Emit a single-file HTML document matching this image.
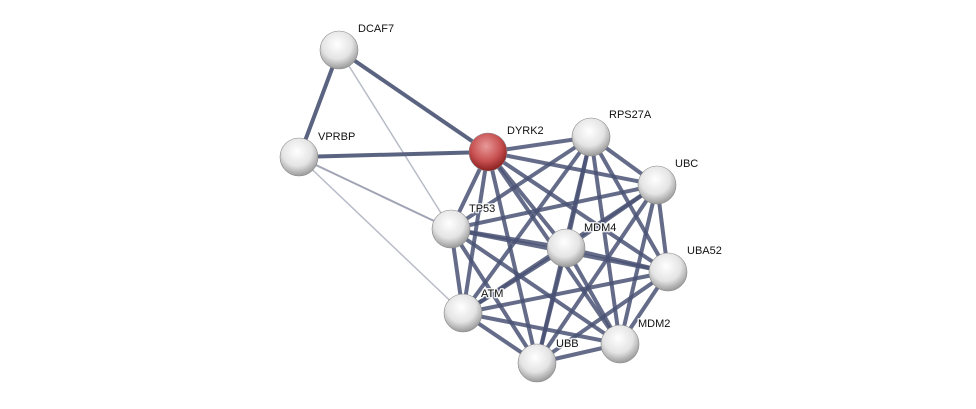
<!DOCTYPE html>
<html><head><meta charset="utf-8"><style>
html,body{margin:0;padding:0;background:#fff;width:976px;height:409px;overflow:hidden}
text{font-family:"Liberation Sans",sans-serif;font-size:11px;fill:#111;stroke:#fff;stroke-width:3px;stroke-opacity:0.85;paint-order:stroke;stroke-linejoin:round}
</style></head><body>
<svg width="976" height="409" xmlns="http://www.w3.org/2000/svg">
<defs>
<radialGradient id="g" cx="45%" cy="35%" r="65%">
<stop offset="0" stop-color="#ffffff"/><stop offset="0.6" stop-color="#e4e4e4"/><stop offset="1" stop-color="#9a9a9a"/>
</radialGradient>
<radialGradient id="r" cx="45%" cy="35%" r="65%">
<stop offset="0" stop-color="#e89a9a"/><stop offset="0.6" stop-color="#c85050"/><stop offset="1" stop-color="#8a2020"/>
</radialGradient>
</defs>
<g stroke-linecap="round">
<line x1="339" y1="50" x2="299" y2="157" stroke="#5a6380" stroke-width="4"/>
<line x1="339" y1="50" x2="488" y2="152" stroke="#5a6380" stroke-width="4"/>
<line x1="339" y1="50" x2="451" y2="229" stroke="#b8bcc8" stroke-width="1.5"/>
<line x1="299" y1="157" x2="488" y2="152" stroke="#5a6380" stroke-width="4"/>
<line x1="299" y1="157" x2="451" y2="229" stroke="#a0a4b4" stroke-width="2"/>
<line x1="299" y1="157" x2="463" y2="313" stroke="#b8bcc8" stroke-width="1.5"/>
</g>
<g stroke="#4a5274" stroke-width="4" stroke-opacity="0.85" stroke-linecap="round">
<line x1="488" y1="152" x2="591" y2="137"/>
<line x1="488" y1="152" x2="657" y2="185"/>
<line x1="488" y1="152" x2="451" y2="229"/>
<line x1="488" y1="152" x2="566" y2="248"/>
<line x1="488" y1="152" x2="668" y2="272"/>
<line x1="488" y1="152" x2="463" y2="313"/>
<line x1="488" y1="152" x2="620" y2="344"/>
<line x1="488" y1="152" x2="537" y2="363"/>
<line x1="591" y1="137" x2="657" y2="185"/>
<line x1="591" y1="137" x2="451" y2="229"/>
<line x1="591" y1="137" x2="566" y2="248"/>
<line x1="591" y1="137" x2="668" y2="272"/>
<line x1="591" y1="137" x2="463" y2="313"/>
<line x1="591" y1="137" x2="620" y2="344"/>
<line x1="591" y1="137" x2="537" y2="363"/>
<line x1="657" y1="185" x2="451" y2="229"/>
<line x1="657" y1="185" x2="566" y2="248"/>
<line x1="657" y1="185" x2="668" y2="272"/>
<line x1="657" y1="185" x2="463" y2="313"/>
<line x1="657" y1="185" x2="620" y2="344"/>
<line x1="657" y1="185" x2="537" y2="363"/>
<line x1="451" y1="229" x2="566" y2="248"/>
<line x1="451" y1="229" x2="668" y2="272"/>
<line x1="451" y1="229" x2="463" y2="313"/>
<line x1="451" y1="229" x2="620" y2="344"/>
<line x1="451" y1="229" x2="537" y2="363"/>
<line x1="566" y1="248" x2="668" y2="272"/>
<line x1="566" y1="248" x2="463" y2="313"/>
<line x1="566" y1="248" x2="620" y2="344"/>
<line x1="566" y1="248" x2="537" y2="363"/>
<line x1="668" y1="272" x2="463" y2="313"/>
<line x1="668" y1="272" x2="620" y2="344"/>
<line x1="668" y1="272" x2="537" y2="363"/>
<line x1="463" y1="313" x2="620" y2="344"/>
<line x1="463" y1="313" x2="537" y2="363"/>
<line x1="620" y1="344" x2="537" y2="363"/>
</g>
<g stroke="#888" stroke-width="0.6">
<circle cx="339" cy="50" r="19" fill="url(#g)"/>
<circle cx="299" cy="157" r="19" fill="url(#g)"/>
<circle cx="488" cy="152" r="19" fill="url(#r)"/>
<circle cx="591" cy="137" r="19" fill="url(#g)"/>
<circle cx="657" cy="185" r="19" fill="url(#g)"/>
<circle cx="451" cy="229" r="19" fill="url(#g)"/>
<circle cx="566" cy="248" r="19" fill="url(#g)"/>
<circle cx="668" cy="272" r="19" fill="url(#g)"/>
<circle cx="463" cy="313" r="19" fill="url(#g)"/>
<circle cx="620" cy="344" r="19" fill="url(#g)"/>
<circle cx="537" cy="363" r="19" fill="url(#g)"/>
</g>
<text x="358" y="32">DCAF7</text>
<text x="318" y="140">VPRBP</text>
<text x="507" y="134">DYRK2</text>
<text x="609" y="118">RPS27A</text>
<text x="675" y="167">UBC</text>
<text x="469" y="212">TP53</text>
<text x="584" y="231">MDM4</text>
<text x="687" y="254">UBA52</text>
<text x="481" y="297">ATM</text>
<text x="638" y="327">MDM2</text>
<text x="556" y="347">UBB</text>
</svg>
</body></html>
